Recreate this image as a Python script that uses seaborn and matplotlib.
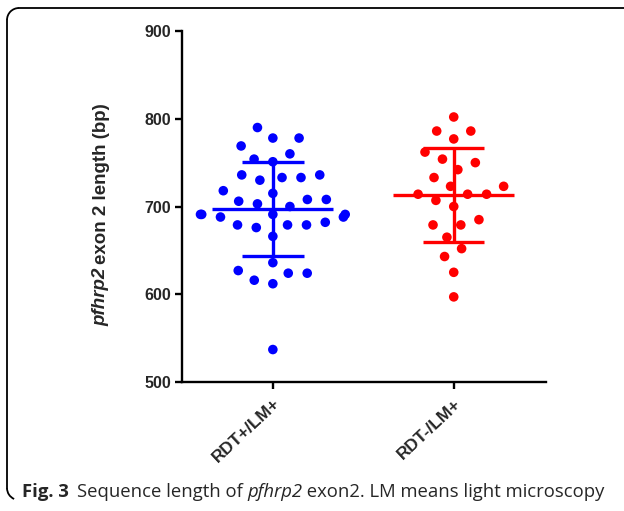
import numpy as np
import pandas as pd
import matplotlib
matplotlib.use("Agg")
import matplotlib.pyplot as plt
import seaborn as sns
from matplotlib.patches import Arc

categories = ["RDT+/LM+", "RDT-/LM+"]
group_pos = [790, 778, 778, 769, 760, 754, 751, 736, 733, 733, 730, 736,
             715, 718, 708, 708, 706, 703, 700, 691, 688, 682, 691, 691,
             691, 688, 679, 679, 676, 679, 666, 636, 624, 624, 627, 612,
             616, 537]
group_neg = [802, 786, 786, 777, 762, 750, 754, 742, 733, 723, 723, 714,
             714, 714, 707, 700, 685, 679, 679, 665, 652, 643, 625, 597]
colors = ["#0000FF", "#FF0000"]
yticks = [500, 600, 700, 800, 900]

df = pd.DataFrame({
    "group": [categories[0]] * len(group_pos) + [categories[1]] * len(group_neg),
    "length": group_pos + group_neg,
})

sns.set_style("ticks")
plt.rcParams["font.family"] = ["Liberation Sans", "DejaVu Sans"]

fig = plt.figure(figsize=(6.24, 5.11), dpi=100)
ax = fig.add_axes([181.5 / 624, 1 - 382 / 511, (546 - 181.5) / 624, (382 - 31) / 511])
ax.set_xlim(-0.505, 1.51)
ax.set_ylim(500, 900)

# swarm laid out with a wider spacing, then drawn with smaller dots
sns.swarmplot(data=df, x="group", y="length", hue="group", palette=colors,
              order=categories, hue_order=categories, size=13, legend=False,
              ax=ax, linewidth=0, zorder=3)
ax.set_xlim(-0.505, 1.51)
ax.set_ylim(500, 900)

for i, cat in enumerate(categories):
    vals = df.loc[df.group == cat, "length"].to_numpy()
    m, s = vals.mean(), vals.std(ddof=1)
    ax.hlines(m, i - 0.335, i + 0.335, color=colors[i], lw=2.4, zorder=4)
    ax.hlines([m - s, m + s], i - 0.17, i + 0.17, color=colors[i], lw=2.4, zorder=4)
    ax.vlines(i, m - s, m + s, color=colors[i], lw=2.4, zorder=4)

ax.set_yticks(yticks)
ax.set_yticklabels([str(t) for t in yticks], fontsize=11.5, fontweight="bold")
ax.set_xticks(range(len(categories)))
ax.set_xticklabels(categories, rotation=43, ha="right", va="top", rotation_mode="anchor",
                   fontsize=12.5, fontweight="bold")
ax.set_xlabel("")
ax.set_ylabel("")
for sp in ["top", "right"]:
    ax.spines[sp].set_visible(False)
for sp in ["left", "bottom"]:
    ax.spines[sp].set_linewidth(1.7)
    ax.spines[sp].set_color("black")
ax.tick_params(axis="both", width=1.7, length=5, color="black", pad=2.5)
ax.tick_params(axis="x", pad=5)

fig.canvas.draw()
for coll in ax.collections:
    if "draw" in coll.__dict__:
        del coll.draw
        coll.set_sizes([6.9 ** 2])
renderer = fig.canvas.get_renderer()

# y label: bold italic gene name + bold rest
ylab_x = 101 / 624
y0 = 1 - 326 / 511
t1 = fig.text(ylab_x, y0, "pfhrp2", rotation=90, fontsize=13.5, fontweight="bold",
              fontstyle="italic", ha="center", va="bottom")
bb = t1.get_window_extent(renderer)
fig.text(ylab_x, y0 + bb.height / 511 + 4 / 511, "exon 2 length (bp)", rotation=90,
         fontsize=13.5, fontweight="bold", ha="center", va="bottom")

# caption
cap_y = 1 - 497 / 511
x = 22 / 624
pieces = [("Fig. 3", "bold", "normal", 0), ("Sequence length of ", "normal", "normal", 8),
          ("pfhrp2", "normal", "italic", 0), (" exon2. LM means light microscopy", "normal", "normal", 0)]
for txt, w, st, gap in pieces:
    x += gap / 624
    t = fig.text(x, cap_y, txt, fontsize=13.3, fontweight=w, fontstyle=st,
                 family=["Open Sans", "DejaVu Sans"], ha="left", va="baseline")
    x += t.get_window_extent(renderer).width / 624

# border frame (top and left edges, rounded corners)
W, H = 624, 511
def fx(px):
    return px / W
def fy(py):
    return 1 - py / H
r = 12
fig.add_artist(plt.Line2D([fx(7 + r), 1], [fy(8), fy(8)], color="black", lw=1.3,
                          transform=fig.transFigure))
fig.add_artist(plt.Line2D([fx(7), fx(7)], [fy(8 + r), fy(500 - r)], color="black",
                          lw=1.3, transform=fig.transFigure))
fig.add_artist(Arc((fx(7 + r), fy(8 + r)), 2 * r / W, 2 * r / H, theta1=90, theta2=180,
                   color="black", lw=1.3, transform=fig.transFigure))
fig.add_artist(Arc((fx(7 + r), fy(500 - r)), 2 * r / W, 2 * r / H, theta1=180, theta2=250,
                   color="black", lw=1.3, transform=fig.transFigure))

fig.savefig("out.png", dpi=100)
